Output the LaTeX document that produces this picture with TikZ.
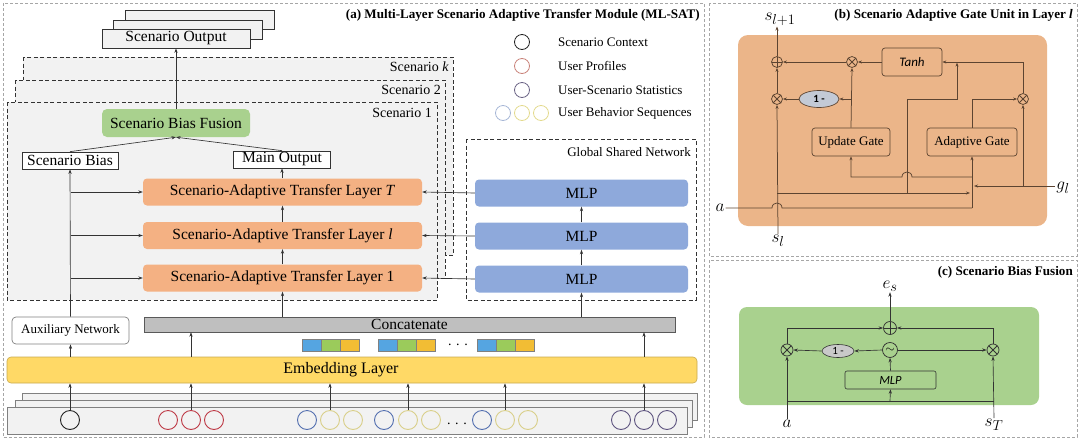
\documentclass[tikz,border=0pt]{standalone}
\usepackage{fontspec}
\setmainfont{Liberation Serif}
\newfontfamily\carl{Carlito}
\usetikzlibrary{arrows.meta,shapes.geometric,calc}
\newcommand{\myfs}[1]{\fontsize{#1}{#1}\selectfont}
\definecolor{lineA}{HTML}{333333}
\definecolor{lineB}{HTML}{5C4431}
\definecolor{orangeL}{HTML}{F4B183}
\definecolor{orangeB}{HTML}{EBB589}
\definecolor{blueM}{HTML}{8EA9DB}
\definecolor{greenF}{HTML}{A9D18E}
\definecolor{grayS}{HTML}{F2F2F2}
\definecolor{grayO}{HTML}{F2F2F2}
\definecolor{yellowE}{HTML}{FFD966}
\definecolor{yellowB}{HTML}{C8A94E}
\definecolor{panelG}{HTML}{A6A6A6}
\definecolor{catG}{HTML}{BFBFBF}
\definecolor{ellB}{HTML}{C3CAD6}
\definecolor{ellC}{HTML}{C9C9C9}
\definecolor{cBlack}{HTML}{222222}
\definecolor{cRed}{HTML}{BE3A46}
\definecolor{cBlue}{HTML}{5470B0}
\definecolor{cYel}{HTML}{D9CF8A}
\definecolor{cPur}{HTML}{5E5480}
\definecolor{lRed}{HTML}{C9837A}
\definecolor{lPur}{HTML}{6B6485}
\definecolor{lBlue}{HTML}{A7B7D6}
\definecolor{lYel}{HTML}{E3DA8E}
\definecolor{eBlue}{HTML}{55A5E1}
\definecolor{eGreen}{HTML}{9BCB5B}
\definecolor{eOrange}{HTML}{F2BD34}
\begin{document}
\begin{tikzpicture}[x=1pt,y=-1pt,
  arr/.style={-{Stealth[length=4.5pt,width=3.2pt]}, line width=0.65pt, draw=lineA},
  ln/.style={line width=0.65pt, draw=lineA},
  brn/.style={-{Stealth[length=4pt,width=3pt]}, line width=0.75pt, draw=lineB},
  brnl/.style={line width=0.75pt, draw=lineB},
  panel/.style={draw=panelG, line width=0.7pt, dash pattern=on 3pt off 2pt},
  scen/.style={draw=lineA, line width=0.6pt, dash pattern=on 4pt off 2.5pt},
  outbox/.style={draw=lineA, fill=grayO, line width=0.7pt},
  plainbox/.style={draw=lineA, fill=white, line width=0.7pt, inner sep=0pt, font=\myfs{15.5}},
  layer/.style={fill=orangeL, rounded corners=4pt, minimum width=279pt, minimum height=27pt, inner sep=0pt, font=\myfs{15.5}},
  mlpbox/.style={fill=blueM, rounded corners=4pt, minimum width=213pt, minimum height=27pt, inner sep=0pt, font=\myfs{15.5}},
  lbl/.style={font=\myfs{13}, inner sep=0pt},
  ttl/.style={font=\myfs{13.1}\bfseries, inner sep=0pt, anchor=east},
  incirc/.style={circle, draw=#1, line width=0.9pt, minimum size=19pt, inner sep=0pt},
  legcirc/.style={circle, draw=#1, line width=0.8pt, minimum size=15pt, inner sep=0pt},
  eblk/.style={draw=gray, line width=0.3pt, fill=#1, minimum width=19pt, minimum height=12pt, inner sep=0pt},
  gbox/.style={draw=lineB, rounded corners=3pt, line width=0.7pt, inner sep=0pt, font=\myfs{13}},
  oplus/.style={circle, draw=#1, line width=0.75pt, inner sep=0pt, path picture={\draw[#1, line width=0.75pt] (path picture bounding box.north) -- (path picture bounding box.south) (path picture bounding box.west) -- (path picture bounding box.east);}},
  otimes/.style={circle, draw=#1, line width=0.75pt, inner sep=0pt, path picture={\draw[#1, line width=0.75pt] (path picture bounding box.north west) -- (path picture bounding box.south east) (path picture bounding box.south west) -- (path picture bounding box.north east);}},
  mathl/.style={font=\myfs{19}, inner sep=1pt}
]
\useasboundingbox (0,0) rectangle (1080,440);

% ================= Panel (a) =================
\draw[panel] (3,3) rectangle (704,437);
\node[ttl] (ta) at (700,15) {(a) Multi-Layer Scenario Adaptive Transfer Module (ML-SAT)};

% scenario output stack
\draw[outbox] (125,10) rectangle (274,29);
\draw[outbox] (113,20) rectangle (262,39);
\node[outbox, minimum width=148pt, minimum height=19pt, inner sep=0pt, font=\myfs{15.5}] (sout) at (176,38.5) {Scenario Output};

% scenario boxes
\draw[scen, fill=grayS] (23,57) rectangle (453,255);
\node[lbl, anchor=east, font=\myfs{14}] (sk) at (449,67) {Scenario \textit{k}};
\draw[scen, fill=grayS] (15,80) rectangle (445,278);
\node[lbl, anchor=east, font=\myfs{14}] (s2) at (441,90) {Scenario 2};
\draw[scen, fill=grayS] (7,102) rectangle (437,300);
\node[lbl, anchor=east, font=\myfs{14}] (s1) at (432,113) {Scenario 1};

% legend
\node[legcirc=cBlack] (lg1) at (522,42) {};
\node[lbl, anchor=west] (lt1) at (558,42) {Scenario Context};
\node[legcirc=lRed] (lg2) at (522,66) {};
\node[lbl, anchor=west] (lt2) at (558,66) {User Profiles};
\node[legcirc=lPur] (lg3) at (522,90) {};
\node[lbl, anchor=west] (lt3) at (558,90) {User-Scenario Statistics};
\node[legcirc=lBlue] (lg4a) at (503,113) {};
\node[legcirc=lYel] (lg4b) at (522,113) {};
\node[legcirc=lYel] (lg4c) at (541,113) {};
\node[lbl, anchor=west] (lt4) at (558,113) {User Behavior Sequences};

% inside scenario 1
\node[fill=greenF, rounded corners=5pt, minimum width=148pt, minimum height=28pt, inner sep=0pt, font=\myfs{15.5}] (sbf) at (176,123) {Scenario Bias Fusion};
\node[plainbox, minimum width=96pt, minimum height=17pt] (sb) at (70,160.5) {Scenario Bias};
\node[plainbox, minimum width=97pt, minimum height=17pt] (mo) at (282,159.5) {Main Output};
\node[layer] (lT) at (282.5,192) {Scenario-Adaptive Transfer Layer \textit{T}};
\node[layer] (ll) at (282.5,235.5) {Scenario-Adaptive Transfer Layer \textit{l}};
\node[layer] (l1) at (282.5,278) {Scenario-Adaptive Transfer Layer 1};

% global shared network
\draw[scen] (466,139) rectangle (696,300);
\node[lbl, anchor=east] (gsn) at (691,152) {Global Shared Network};
\node[mlpbox] (mT) at (581.5,193) {MLP};
\node[mlpbox] (ml) at (581.5,236) {MLP};
\node[mlpbox] (m1) at (581.5,279) {MLP};

% concatenate, auxiliary, embedding
\node[draw=gray!70!black, fill=catG, line width=0.5pt, minimum width=531pt, minimum height=15pt, inner sep=0pt, font=\myfs{15.5}] (cat) at (409.5,324.5) {Concatenate};
\node[draw=gray, fill=white, rounded corners=4pt, line width=0.7pt, minimum width=117pt, minimum height=27pt, inner sep=0pt, font=\myfs{13}] (aux) at (70.5,330.5) {Auxiliary Network};
\node[draw=yellowB, fill=yellowE, rounded corners=4pt, line width=0.6pt, minimum width=690pt, minimum height=26pt, inner sep=0pt] (emb) at (352,370) {};
\node[font=\myfs{16}, inner sep=0pt] (embt) at (341,370) {Embedding Layer};

% embedding blocks
\foreach \gx/\gn in {302/a,378/b,477/c}{
  \node[eblk=eBlue] (eb\gn1) at (\gx+9.5,345) {};
  \node[eblk=eGreen] (eb\gn2) at (\gx+28.5,345) {};
  \node[eblk=eOrange] (eb\gn3) at (\gx+47.5,345) {};
}
\node[font=\myfs{14}, inner sep=0pt] (edots) at (458,345) {. . .};

% input stack
\draw[draw=gray, fill=grayS, line width=0.6pt] (22,393) rectangle (697,420);
\draw[draw=gray, fill=grayS, line width=0.6pt] (15,400) rectangle (692,427);
\draw[draw=gray, fill=grayS, line width=0.6pt] (7,407) rectangle (687,434);

\node[incirc=cBlack] (c0) at (70,420) {};
\node[incirc=cRed] (r1) at (168,420) {};
\node[incirc=cRed] (r2) at (191,420) {};
\node[incirc=cRed] (r3) at (214,420) {};
\node[incirc=cBlue] (ga1) at (307,420) {};
\node[incirc=cYel] (ga2) at (330,420) {};
\node[incirc=cYel] (ga3) at (353,420) {};
\node[incirc=cBlue] (gb1) at (384,420) {};
\node[incirc=cYel] (gb2) at (408,420) {};
\node[incirc=cYel] (gb3) at (431,420) {};
\node[font=\myfs{14}, inner sep=0pt] (idots) at (457,424) {. . .};
\node[incirc=cBlue] (gc1) at (482,420) {};
\node[incirc=cYel] (gc2) at (505,420) {};
\node[incirc=cYel] (gc3) at (528,420) {};
\node[incirc=cPur] (p1) at (621,420) {};
\node[incirc=cPur] (p2) at (644,420) {};
\node[incirc=cPur] (p3) at (667,420) {};

% arrows panel a
\foreach \n in {c0,r2,ga2,gb2,gc2,p2}{
  \draw[arr] (\n.north) -- (\n.north |- emb.south);
}
\draw[arr] (emb.north -| aux.south) -- (aux.south);
\draw[arr] (emb.north -| r2.north) -- (cat.south -| r2.north);
\draw[arr] (emb.north -| p2.north) -- (cat.south -| p2.north);
\draw[arr] (cat.north -| l1.south) -- (l1.south);
\draw[arr] (cat.north -| m1.south) -- (m1.south);
\draw[arr] (l1.north) -- (ll.south);
\draw[arr] (ll.north) -- (lT.south);
\draw[arr] (lT.north -| mo.south) -- (mo.south);
\draw[arr] (m1.north) -- (ml.south);
\draw[arr] (ml.north) -- (mT.south);
\draw[arr] (mT.west) -- (lT.east);
\draw[arr] (ml.west) -- (ll.east);
\draw[arr] (m1.west) -- (l1.east);
\draw[arr] (aux.north) -- (sb.south);
\draw[arr] (aux.north |- lT.west) -- (lT.west);
\draw[arr] (aux.north |- ll.west) -- (ll.west);
\draw[arr] (aux.north |- l1.west) -- (l1.west);
\draw[arr] (sb.north) -- (sbf.south);
\draw[arr] (mo.north) -- (sbf.south);
\draw[arr] (sbf.north) -- (sout.south);

% ================= Panel (b) =================
\draw[panel] (709,3) rectangle (1077,256);
\node[ttl] (tb) at (1073,15) {(b) Scenario Adaptive Gate Unit in Layer \textit{l}};
\node[fill=orangeB, rounded corners=10pt, minimum width=309pt, minimum height=191pt, inner sep=0pt] (bbg) at (892.5,130.5) {};

\node[oplus=lineB, minimum size=11pt] (pl) at (777,62) {};
\node[otimes=lineB, minimum size=11pt] (tm) at (852,62) {};
\node[gbox, minimum width=60pt, minimum height=28pt, font=\carl\itshape\myfs{13}] (tanh) at (912,62) {Tanh};
\node[otimes=lineB, minimum size=11pt] (lm) at (777,99) {};
\node[ellipse, draw=lineB, fill=ellB, line width=0.7pt, minimum width=40pt, minimum height=17pt, inner sep=0pt, font=\carl\bfseries\myfs{11}] (one) at (819,99) {1 -};
\node[otimes=lineB, minimum size=11pt] (rm) at (1023,99) {};
\node[gbox, minimum width=78pt, minimum height=28pt] (ug) at (851,142) {Update Gate};
\node[gbox, minimum width=90pt, minimum height=28pt] (ag) at (972,142) {Adaptive Gate};
\node[mathl] (slp) at (780,19) {$s_{l+1}$};
\node[mathl] (gl) at (1063,188) {$g_l$};
\node[mathl] (sl) at (778,241) {$s_l$};
\node[mathl] (ain) at (720,208) {$a$};

\coordinate (ja) at (972,208);
\coordinate (jsl) at (777,193);
\coordinate (jg) at (974,186);
\coordinate (jsr) at (970,193);
\coordinate (jug) at (972,177);
\coordinate (jt) at (907,193);

\draw[brn] (pl.north) -- (pl.north |- slp.south);
\draw[brn] (lm.north) -- (pl.south);
\draw[brn] (tm.west) -- (pl.east);
\draw[brn] (tanh.west) -- (tm.east);
\draw[brn] (ug.north) -- (tm.south);
\draw[brn] (ug.north |- one.east) -- (one.east);
\draw[brn] (one.west) -- (lm.east);
\draw[brn] (sl.north) -- (lm.south);
\draw[brnl] (ain.east) -- (772,208) .. controls (772,201.3) and (782,201.3) .. (782,208) -- (ja);
\draw[brn] (ja) -- (ag.south);
\draw[brn] (jsl) -- (jsr);
\draw[brn] (gl.west |- jg) -- (jg);
\draw[brn] (rm.south |- jg) -- (rm.south);
\draw[brn] (jug) -- (912,177) .. controls (912,170.3) and (902,170.3) .. (902,177) -- (ug.south |- jug) -- (ug.south);
\draw[brn] (jt) -- (907,99) -- (957,99) -- (957,62.6);
\draw[brn] (rm.north) -- (rm.north |- tanh.east) -- (tanh.east);
\draw[brn] (ag.north) -- (ag.north |- rm.west) -- (rm.west);

% ================= Panel (c) =================
\draw[panel] (709,260) rectangle (1077,437);
\node[ttl] (tc) at (1073,272) {(c) Scenario Bias Fusion};
\node[fill=greenF, rounded corners=8pt, minimum width=300pt, minimum height=98pt, inner sep=0pt] (cbg) at (889,356) {};

\node[oplus=lineA, minimum size=13pt] (cplus) at (890,328) {};
\node[otimes=lineA, minimum size=12pt] (cl) at (787,350) {};
\node[ellipse, draw=lineA, fill=ellC, line width=0.6pt, minimum width=32pt, minimum height=13pt, inner sep=0pt, font=\carl\myfs{11}] (cone) at (838,351) {1 -};
\node[circle, draw=lineA, line width=0.75pt, minimum size=15pt, inner sep=0pt, font=\myfs{12}] (csig) at (890,350) {$\sim$};
\node[otimes=lineA, minimum size=12pt] (cr) at (993,350) {};
\node[draw=lineA, rounded corners=2pt, line width=0.6pt, minimum width=91pt, minimum height=18pt, inner sep=0pt, font=\carl\itshape\myfs{12.5}] (cmlp) at (890.5,380) {MLP};
\node[mathl] (es) at (890,286) {$e_s$};
\node[mathl] (ca) at (787,424) {$a$};
\node[mathl] (cst) at (994,425) {$s_T$};

\coordinate (cb) at (890,401);
\draw[arr] (cplus.north) -- (cplus.north |- es.south);
\draw[arr] (cl.north) -- (cl.north |- cplus.west) -- (cplus.west);
\draw[arr] (cr.north) -- (cr.north |- cplus.east) -- (cplus.east);
\draw[arr] (csig.west) -- (cone.east);
\draw[arr] (cone.west) -- (cl.east);
\draw[arr] (csig.east) -- (cr.west);
\draw[arr] (cmlp.north) -- (csig.south);
\draw[arr] (ca.north) -- (cl.south);
\draw[arr] (cst.north) -- (cr.south);
\draw[ln] (ca.north |- cb) -- (cst.north |- cb);
\draw[arr] (cb) -- (cmlp.south);
\end{tikzpicture}
\end{document}
